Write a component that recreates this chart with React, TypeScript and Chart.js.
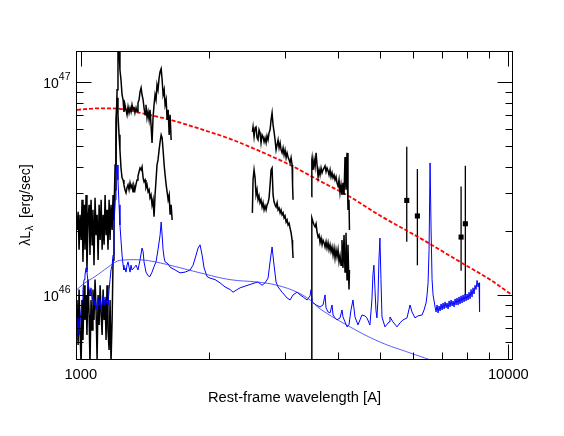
import React, { useEffect, useRef } from "react";
import { Chart, registerables } from "chart.js";

Chart.register(...registerables);

// ---- Axis definition (luminosity in units of 1e46 erg/s, wavelength in Angstrom) ----
const xMin = 980;
const xMax = 10200;
const yMin = 0.5;
const yMax = 14.0;
const xMajorTicks = [1000, 10000];
const xMajorLabels = ["1000", "10000"];
const xMinorTicks = [2000, 3000, 4000, 5000, 6000, 7000, 8000, 9000];
const yMajorTicks = [1, 10];
const yMajorBase = ["10", "10"];
const yMajorExp = ["46", "47"];
const yMinorTicks = [0.5, 0.6, 0.7, 0.8, 0.9, 2, 3, 4, 5, 6, 7, 8, 9];
const xTitle = "Rest-frame wavelength [A]";

// ---- Model (red dashed) ----
const modelWave = [980, 1110, 1235, 1376, 1618, 1901, 2235, 2584, 3087, 3628, 4263, 5009, 6217, 7710, 9064, 10200];
const modelLum = [7.41, 7.53, 7.49, 7.17, 6.65, 6.03, 5.41, 4.80, 4.08, 3.43, 2.89, 2.36, 1.85, 1.43, 1.18, 1.00];

// ---- Black spectrum, upper, UV part ----
const upUvWave = [980, 986, 991, 996, 1002, 1007, 1012, 1018, 1023, 1029, 1034, 1040, 1046, 1051, 1057, 1063, 1068, 1074, 1080, 1086, 1092, 1098, 1104, 1110, 1116, 1122, 1128, 1134, 1140, 1146, 1152, 1158, 1165, 1171, 1177, 1184, 1190, 1196, 1203, 1209, 1216, 1222, 1229, 1235, 1242, 1249, 1256, 1262, 1269, 1276, 1283, 1290, 1297, 1304, 1311, 1318, 1325, 1332, 1339, 1347, 1354, 1361, 1369, 1376, 1384, 1391, 1399, 1406, 1414, 1421, 1429, 1437, 1445, 1452, 1460, 1468, 1476, 1484, 1492, 1500, 1508, 1516, 1525, 1533, 1542, 1550, 1558, 1567, 1575, 1584, 1592, 1601, 1610, 1618, 1627];
const upUvLum = [2.02, 2.46, 1.63, 2.38, 1.81, 2.80, 1.43, 2.65, 1.63, 2.95, 1.31, 2.25, 2.65, 1.54, 2.80, 1.72, 2.51, 1.38, 2.86, 1.91, 2.38, 1.46, 2.65, 1.81, 2.80, 1.63, 2.38, 1.72, 2.95, 1.91, 2.51, 1.63, 2.80, 1.81, 2.65, 2.02, 2.95, 2.25, 3.12, 4.80, 9.20, 14.9, 14.2, 11.4, 10.25, 8.72, 8.26, 7.25, 7.82, 7.41, 7.02, 7.65, 7.17, 7.57, 7.25, 7.82, 7.41, 7.65, 7.17, 7.57, 7.25, 7.99, 8.26, 9.00, 9.40, 8.72, 8.26, 7.57, 7.02, 7.82, 6.80, 7.25, 6.65, 7.41, 6.30, 5.18, 6.80, 7.82, 8.72, 8.26, 9.71, 9.20, 10.47, 11.18, 11.55, 10.25, 8.72, 9.20, 7.82, 8.26, 6.65, 7.41, 5.65, 7.02, 5.35];

// ---- Black spectrum, lower, UV part ----
const loUvWave = [980, 986, 991, 996, 1002, 1007, 1012, 1018, 1023, 1029, 1034, 1040, 1046, 1051, 1057, 1063, 1068, 1074, 1080, 1086, 1092, 1098, 1104, 1110, 1116, 1122, 1128, 1134, 1140, 1146, 1152, 1158, 1165, 1171, 1177, 1184, 1190, 1196, 1203, 1209, 1216, 1222, 1229, 1235, 1242, 1249, 1256, 1262, 1269, 1276, 1283, 1290, 1297, 1304, 1311, 1318, 1325, 1332, 1339, 1347, 1354, 1361, 1369, 1376, 1384, 1391, 1399, 1406, 1414, 1421, 1429, 1437, 1445, 1452, 1460, 1468, 1476, 1484, 1492, 1500, 1508, 1516, 1525, 1533, 1542, 1550, 1558, 1567, 1575, 1584, 1592, 1601, 1610, 1618, 1627, 1636];
const loUvLum = [0.947, 0.582, 1.06, 0.685, 0.469, 0.947, 0.614, 1.11, 0.763, 1.00, 0.648, 1.18, 0.805, 0.469, 0.947, 0.685, 1.06, 0.763, 1.18, 0.850, 0.495, 1.00, 0.723, 1.11, 0.805, 0.648, 1.06, 0.763, 0.947, 0.614, 1.11, 0.685, 0.551, 0.947, 0.48, 0.763, 1.46, 2.38, 4.08, 6.65, 8.44, 7.02, 5.65, 4.80, 3.95, 3.55, 3.47, 3.29, 3.12, 3.02, 3.19, 3.29, 3.12, 3.36, 3.19, 3.29, 3.05, 3.25, 3.12, 3.32, 3.47, 3.62, 3.79, 3.95, 3.87, 4.00, 3.55, 3.40, 3.47, 3.19, 3.29, 3.05, 3.12, 2.86, 2.95, 2.65, 2.80, 2.33, 2.95, 3.47, 4.08, 4.31, 4.80, 5.24, 5.65, 5.47, 4.80, 4.08, 3.66, 3.29, 3.05, 2.80, 2.95, 2.38, 2.65, 2.25];

// ---- Black spectrum, Mg II region ----
const midWave = [2520, 2529, 2543, 2557, 2570, 2584, 2598, 2612, 2626, 2640, 2655, 2669, 2684, 2698, 2713, 2727, 2742, 2757, 2772, 2787, 2802, 2817, 2832, 2848, 2863, 2879, 2894, 2910, 2926, 2941, 2957, 2973, 2989, 3005, 3022, 3038, 3054, 3071, 3087, 3104, 3121, 3129, 3137];
const upMidLum = [5.84, 6.16, 5.53, 6.10, 6.16, 5.47, 5.35, 5.97, 5.78, 5.18, 5.65, 5.53, 5.24, 5.47, 5.18, 5.59, 5.35, 5.78, 5.97, 6.65, 7.17, 6.30, 5.84, 5.35, 4.80, 5.07, 5.35, 4.91, 5.18, 4.80, 4.65, 4.91, 4.55, 4.80, 4.41, 4.65, 4.45, 4.31, 4.17, 4.41, 4.08, 3.29, 2.80];
const loMidLum = [2.43, 3.47, 3.87, 3.55, 2.95, 3.12, 2.80, 2.92, 2.71, 2.80, 2.59, 2.71, 2.51, 2.62, 2.51, 2.65, 2.71, 2.86, 3.29, 3.87, 3.95, 2.95, 2.74, 2.65, 2.59, 2.71, 2.51, 2.56, 2.43, 2.51, 2.38, 2.43, 2.30, 2.35, 2.20, 2.25, 2.13, 2.17, 2.06, 1.96, 1.81, 1.66, 1.49];

// ---- Black spectrum, optical region ----
const upOptWave = [3466, 3471, 3476, 3494, 3513, 3532, 3551, 3570, 3590, 3609, 3628, 3648, 3668, 3687, 3707, 3727, 3747, 3767, 3788, 3808, 3829, 3849, 3870, 3891, 3912, 3933, 3954, 3975, 3997, 4018, 4040, 4062, 4083, 4105, 4128, 4150, 4172, 4195, 4217, 4240, 4251];
const upOptLum = [2.89, 4.31, 4.41, 3.87, 4.31, 4.00, 4.65, 4.08, 3.59, 3.87, 3.66, 3.95, 3.75, 3.87, 3.95, 4.04, 3.79, 3.95, 3.83, 3.66, 3.87, 3.59, 3.75, 3.55, 3.66, 3.47, 3.59, 3.36, 3.25, 3.47, 3.02, 3.29, 2.95, 3.36, 2.95, 4.45, 3.12, 4.65, 2.51, 2.80, 2.02];
const loOptWave = [3457, 3471, 3494, 3513, 3532, 3551, 3570, 3590, 3609, 3628, 3648, 3668, 3687, 3707, 3727, 3747, 3767, 3788, 3808, 3829, 3849, 3870, 3891, 3912, 3933, 3954, 3975, 3997, 4018, 4040, 4062, 4083, 4105, 4128, 4150, 4172, 4195, 4217, 4240, 4251];
const loOptLum = [0.26, 2.30, 2.20, 2.13, 2.09, 2.16, 1.98, 1.87, 1.91, 1.76, 1.85, 1.72, 1.81, 1.76, 1.68, 1.78, 1.66, 1.76, 1.63, 1.72, 1.60, 1.68, 1.54, 1.66, 1.49, 1.63, 1.51, 1.63, 1.43, 1.53, 1.38, 1.81, 1.34, 1.91, 1.28, 1.96, 1.18, 1.72, 1.06, 1.31];

// ---- Photometric points with error bars ----
const photWave = [5787, 6128, 7754, 7934];
const photLum = [2.78, 2.35, 1.87, 2.16];
const photLow = [1.78, 1.38, 1.30, 1.00];
const photHigh = [4.97, 3.91, 3.23, 4.04];

// ---- Blue composite template ----
const tmplWave = [980, 986, 991, 996, 1002, 1007, 1012, 1018, 1023, 1029, 1034, 1040, 1046, 1051, 1057, 1063, 1068, 1074, 1080, 1086, 1092, 1098, 1104, 1110, 1116, 1122, 1128, 1134, 1140, 1146, 1152, 1158, 1165, 1171, 1177, 1184, 1190, 1196, 1203, 1209, 1216, 1222, 1229, 1235, 1242, 1249, 1256, 1262, 1269, 1276, 1283, 1290, 1304, 1311, 1318, 1332, 1347, 1361, 1376, 1391, 1399, 1406, 1421, 1437, 1452, 1468, 1484, 1500, 1516, 1533, 1542, 1550, 1558, 1567, 1575, 1601, 1618, 1662, 1707, 1754, 1802, 1831, 1861, 1881, 1901, 1922, 1943, 1974, 2006, 2061, 2117, 2175, 2235, 2271, 2322, 2359, 2423, 2489, 2557, 2598, 2655, 2698, 2742, 2772, 2802, 2832, 2863, 2894, 2957, 3038, 3087, 3137, 3206, 3258, 3311, 3383, 3438, 3457, 3476, 3551, 3628, 3687, 3727, 3747, 3788, 3829, 3870, 3891, 3933, 3975, 4040, 4083, 4105, 4150, 4195, 4240, 4286, 4332, 4379, 4450, 4498, 4547, 4620, 4670, 4746, 4797, 4823, 4849, 4877, 4902, 4928, 4955, 4982, 5009, 5037, 5064, 5146, 5260, 5287, 5373, 5490, 5580, 5671, 5795, 5890, 5953, 6051, 6150, 6284, 6352, 6421, 6456, 6491, 6526, 6561, 6597, 6632, 6668, 6740, 6776, 6813, 6850, 6887, 6924, 6961, 6999, 7037, 7075, 7113, 7152, 7190, 7229, 7268, 7307, 7347, 7386, 7426, 7466, 7506, 7546, 7587, 7628, 7669, 7710, 7752, 7794, 7836, 7878, 7921, 7964, 8007, 8050, 8094, 8137, 8181, 8225, 8270, 8314, 8359, 8404, 8450, 8496, 8541, 8565];
const tmplLum = [0.614, 0.780, 0.648, 0.747, 0.850, 0.947, 1.06, 1.18, 1.24, 1.34, 1.28, 1.15, 1.06, 1.00, 1.08, 0.947, 0.979, 0.897, 0.947, 0.850, 0.917, 0.968, 0.887, 0.947, 0.850, 0.927, 0.99, 0.897, 0.979, 0.917, 0.947, 0.897, 1.06, 1.18, 1.31, 1.38, 1.54, 2.02, 2.80, 3.66, 4.08, 3.47, 2.65, 2.13, 1.81, 1.54, 1.38, 1.31, 1.34, 1.28, 1.38, 1.43, 1.28, 1.38, 1.31, 1.34, 1.38, 1.31, 1.46, 1.66, 1.60, 1.43, 1.28, 1.23, 1.22, 1.28, 1.36, 1.43, 1.63, 1.91, 2.20, 1.91, 1.63, 1.49, 1.43, 1.40, 1.35, 1.31, 1.27, 1.28, 1.31, 1.38, 1.54, 1.66, 1.72, 1.54, 1.34, 1.22, 1.20, 1.18, 1.14, 1.09, 1.06, 1.03, 1.06, 1.08, 1.10, 1.12, 1.14, 1.15, 1.11, 1.14, 1.20, 1.43, 1.68, 1.38, 1.15, 1.09, 1.03, 0.968, 0.947, 1.00, 1.03, 1.00, 0.979, 0.947, 0.99, 1.06, 0.927, 0.897, 0.878, 0.897, 1.00, 0.869, 0.832, 0.823, 0.897, 0.805, 0.780, 0.763, 0.780, 0.850, 0.788, 0.747, 0.708, 0.723, 0.850, 0.947, 0.788, 0.723, 0.763, 0.805, 0.797, 0.780, 0.723, 0.947, 1.24, 1.38, 1.06, 0.850, 0.780, 0.947, 1.46, 1.85, 1.18, 0.788, 0.708, 0.747, 0.788, 0.747, 0.708, 0.739, 0.763, 0.780, 0.897, 0.832, 0.780, 0.797, 0.805, 0.850, 0.917, 1.00, 1.14, 1.63, 4.17, 2.02, 1.18, 1.00, 0.878, 0.832, 0.897, 0.823, 0.887, 0.841, 0.907, 0.850, 0.917, 0.859, 0.927, 0.869, 0.917, 0.859, 0.937, 0.878, 0.947, 0.887, 0.937, 0.878, 0.958, 0.897, 0.968, 0.897, 0.979, 0.907, 0.99, 0.917, 1.00, 0.927, 1.01, 0.937, 1.01, 0.947, 1.03, 0.958, 1.06, 0.979, 1.08, 1.01, 1.11, 1.06, 1.17, 1.09, 1.14, 0.832];

// ---- Blue smooth continuum ----
const contWave = [980, 1023, 1080, 1158, 1216, 1269, 1391, 1492, 1662, 1901, 2235, 2584, 2879, 3206, 3438, 3628, 4263, 5009, 5890, 6561, 7113];
const contLum = [1.06, 1.14, 1.22, 1.35, 1.44, 1.46, 1.46, 1.43, 1.36, 1.27, 1.18, 1.15, 1.11, 1.03, 0.947, 0.86, 0.708, 0.601, 0.534, 0.495, 0.46];

const FONT = '"Liberation Sans", Arial, Helvetica, sans-serif';

const pts = (w: number[], l: number[]) => w.map((x, i) => ({ x, y: l[i] }));

const lineDs = (data: any[], color: string, width: number, extra: any = {}) => ({
  data,
  borderColor: color,
  borderWidth: width,
  pointRadius: 0,
  fill: false,
  tension: 0,
  ...extra,
});

const errorData: any[] = [];
photWave.forEach((w, i) => {
  errorData.push({ x: w, y: photLow[i] });
  errorData.push({ x: w, y: photHigh[i] });
  errorData.push({ x: w, y: null });
});

const framePlugin = {
  id: "frameTicks",
  afterDatasetsDraw(chart: any) {
    const { ctx, chartArea: a, scales } = chart;
    const xs = scales.x;
    const ys = scales.y;
    const L = a.left - 0.5;
    const R = a.right + 0.5;
    const T = a.top + 0.5;
    const B = a.bottom + 0.5;
    ctx.save();
    ctx.strokeStyle = "#000";
    ctx.lineWidth = 1;
    ctx.strokeRect(L, T, R - L, B - T);
    const seg = (x1: number, y1: number, x2: number, y2: number) => {
      ctx.beginPath();
      ctx.moveTo(x1, y1);
      ctx.lineTo(x2, y2);
      ctx.stroke();
    };
    const xt = (vals: number[], len: number) =>
      vals.forEach((v) => {
        const p = Math.round(xs.getPixelForValue(v)) + 0.5;
        seg(p, B, p, B - len);
        seg(p, T, p, T + len);
      });
    const yt = (vals: number[], len: number) =>
      vals.forEach((v) => {
        const p = Math.round(ys.getPixelForValue(v)) + 0.5;
        seg(L, p, L + len, p);
        seg(R, p, R - len, p);
      });
    xt(xMajorTicks, 15);
    xt(xMinorTicks, 7);
    yt(yMajorTicks, 15);
    yt(yMinorTicks, 7);

    ctx.fillStyle = "#000";
    ctx.textBaseline = "alphabetic";
    // x tick labels
    ctx.font = `14.7px ${FONT}`;
    ctx.textAlign = "center";
    xMajorTicks.forEach((v, i) => {
      ctx.fillText(xMajorLabels[i], xs.getPixelForValue(v), 379);
    });
    // x title
    ctx.fillText(xTitle, (a.left + a.right) / 2, 401.5);
    // y tick labels with superscript exponents
    ctx.textAlign = "left";
    yMajorTicks.forEach((v, i) => {
      const p = ys.getPixelForValue(v);
      ctx.font = `10.5px ${FONT}`;
      const we = ctx.measureText(yMajorExp[i]).width;
      ctx.font = `14px ${FONT}`;
      const wb = ctx.measureText(yMajorBase[i]).width;
      const right = 70.5;
      ctx.fillText(yMajorBase[i], right - we - wb, p + 6);
      ctx.font = `10.5px ${FONT}`;
      ctx.fillText(yMajorExp[i], right - we, p - 2);
    });
    // y title: λL_λ  [erg/sec]
    ctx.translate(30, (a.top + a.bottom) / 2);
    ctx.rotate(-Math.PI / 2);
    ctx.font = `14px ${FONT}`;
    const p1 = "\u03BBL";
    const p3 = "  [erg/sec]";
    const w1 = ctx.measureText(p1).width;
    const w3 = ctx.measureText(p3).width;
    ctx.font = `10px ${FONT}`;
    const w2 = ctx.measureText("\u03BB").width;
    let x0 = -(w1 + w2 + w3) / 2;
    ctx.font = `14px ${FONT}`;
    ctx.fillText(p1, x0, 0);
    x0 += w1;
    ctx.font = `10px ${FONT}`;
    ctx.fillText("\u03BB", x0, 3);
    x0 += w2;
    ctx.font = `14px ${FONT}`;
    ctx.fillText(p3, x0, 0);
    ctx.restore();
  },
};

export default function App() {
  const ref = useRef<HTMLCanvasElement>(null);
  useEffect(() => {
    const black = "#000000";
    const chart = new Chart(ref.current as HTMLCanvasElement, {
      type: "line",
      data: {
        datasets: [
          lineDs(pts(contWave, contLum), "rgba(40,40,255,0.85)", 0.9, { tension: 0.4 }),
          lineDs(pts(tmplWave, tmplLum), "#0000ff", 1),
          lineDs(pts(upUvWave, upUvLum), black, 1.5),
          lineDs(pts(loUvWave, loUvLum), black, 1.5),
          lineDs(pts(midWave, upMidLum), black, 1.5),
          lineDs(pts(midWave, loMidLum), black, 1.5),
          lineDs(pts(upOptWave, upOptLum), black, 1.5),
          lineDs(pts(loOptWave, loOptLum), black, 1.5),
          lineDs(pts(modelWave, modelLum), "#ff0000", 1.8, {
            borderDash: [4, 2],
            tension: 0.4,
            cubicInterpolationMode: "monotone",
          }),
          lineDs(errorData, black, 1.3, { spanGaps: false }),
          {
            data: pts(photWave, photLum),
            showLine: false,
            pointStyle: "rect",
            pointRadius: 3.6,
            pointBackgroundColor: black,
            pointBorderColor: black,
            pointBorderWidth: 0,
            borderColor: black,
          },
        ] as any,
      },
      options: {
        responsive: false,
        animation: false,
        parsing: true,
        layout: { padding: { left: 77, right: 52, top: 51, bottom: 77 } },
        plugins: { legend: { display: false }, tooltip: { enabled: false } },
        events: [],
        scales: {
          x: { type: "logarithmic", min: xMin, max: xMax, display: false },
          y: { type: "logarithmic", min: yMin, max: yMax, display: false },
        },
      } as any,
      plugins: [framePlugin],
    });
    return () => chart.destroy();
  }, []);
  return (
    <div style={{ position: "absolute", left: 0, top: 0, width: 564, height: 436, background: "#fff" }}>
      <canvas ref={ref} width={564} height={436} style={{ display: "block", width: 564, height: 436 }} />
    </div>
  );
}
